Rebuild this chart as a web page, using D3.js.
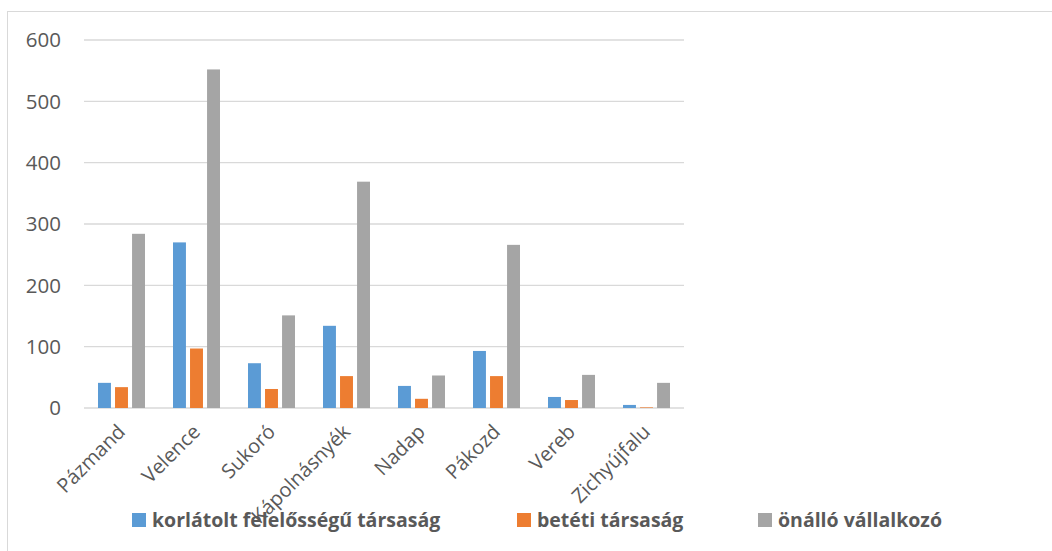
<!DOCTYPE html>
<html>
<head>
<meta charset="utf-8">
<script src="https://cdn.jsdelivr.net/npm/d3@7"></script>
<style>
  body { margin: 0; background: #fff; }
  svg { font-family: "Open Sans", sans-serif; }
</style>
</head>
<body>
<div class="chart"></div>
<script>
// település nevek
const towns = ["Pázmand", "Velence", "Sukoró", "Kápolnásnyék", "Nadap", "Pákozd", "Vereb", "Zichyújfalu"];
const seriesNames = ["korlátolt felelősségű társaság", "betéti társaság", "önálló vállalkozó"];
const kft = [41, 270, 73, 134, 36, 93, 18, 5];
const bt = [34, 97, 31, 52, 15, 52, 13, 1];
const ev = [284, 552, 151, 369, 53, 266, 54, 41];
const yTicks = [0, 100, 200, 300, 400, 500, 600];
const colors = ["#5b9bd5", "#ed7d31", "#a5a5a5"];

const allSeries = [kft, bt, ev];

let width = 1052, height = 551;
let margin = {top: 40, right: 368, bottom: 143, left: 84};

let svg = d3.select('.chart')
    .append("svg")
        .attr("width", width)
        .attr("height", height);

// chart border
svg.append("rect")
    .attr("x", 7.5).attr("y", 11.5)
    .attr("width", width + 10).attr("height", height)
    .attr("fill", "none")
    .attr("stroke", "#d9d9d9");

const x = d3.scaleBand()
    .domain(towns)
    .range([margin.left, width - margin.right]);

const y = d3.scaleLinear()
    .domain([0, 600])
    .range([height - margin.bottom, margin.top]);

// bars inside one category
const inner = d3.scaleBand()
    .domain(d3.range(3))
    .range([14, x.bandwidth() - 14])
    .paddingInner(0.24);

// gridlines
svg.append("g")
    .selectAll("line")
    .data(yTicks)
    .join("line")
        .attr("x1", margin.left)
        .attr("x2", width - margin.right)
        .attr("y1", d => y(d))
        .attr("y2", d => y(d))
        .attr("stroke", "#d9d9d9")
        .attr("stroke-width", 1.3);

// y labels
svg.append("g")
    .selectAll("text")
    .data(yTicks)
    .join("text")
        .attr("x", 61)
        .attr("y", d => y(d))
        .attr("dy", "0.35em")
        .attr("text-anchor", "end")
        .attr("fill", "#595959")
        .attr("font-size", 20.5)
        .text(d => d);

// bars
allSeries.forEach(function (vals, s) {
    svg.append("g")
        .selectAll("rect")
        .data(vals)
        .join("rect")
            .attr("x", (d, i) => x(towns[i]) + inner(s))
            .attr("y", d => y(d))
            .attr("width", inner.bandwidth())
            .attr("height", d => y(0) - y(d))
            .attr("fill", colors[s]);
});

// x labels
svg.append("g")
    .selectAll("text")
    .data(towns)
    .join("text")
        .attr("text-anchor", "end")
        .attr("fill", "#595959")
        .attr("font-size", 20)
        .attr("transform", d => "translate(" + (x(d) + x.bandwidth() / 2 + 5) + "," + (y(0) + 25) + ") rotate(-45)")
        .text(d => d);

// legend
const legendX = [132, 517, 758];
seriesNames.forEach(function (name, s) {
    let g = svg.append("g").attr("transform", "translate(" + legendX[s] + ",520)");
    g.append("rect")
        .attr("x", 0).attr("y", -7)
        .attr("width", 14).attr("height", 14)
        .attr("fill", colors[s]);
    g.append("text")
        .attr("x", 20)
        .attr("dy", "0.35em")
        .attr("fill", "#595959")
        .attr("font-size", 19.5)
        .attr("font-weight", "bold")
        .text(name);
});
</script>
</body>
</html>
